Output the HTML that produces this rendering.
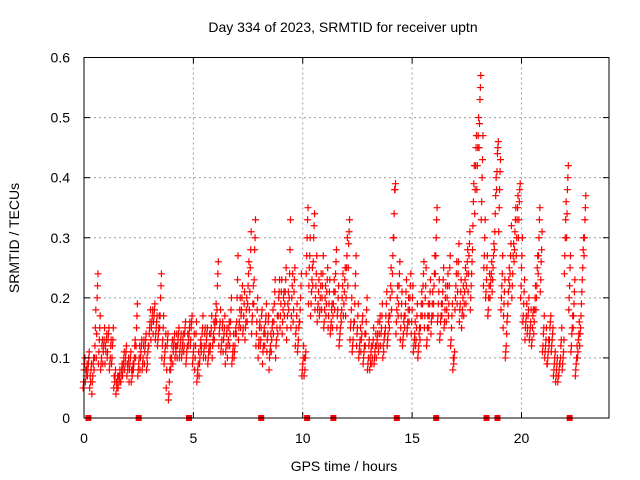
<!DOCTYPE html>
<html><head><meta charset="utf-8"><style>
body{margin:0;background:#fff;}
svg{display:block;font-family:"Liberation Sans",sans-serif;}
</style></head><body>
<svg id="chart" width="640" height="480">
<rect x="0" y="0" width="640" height="480" fill="#fff"/>
<text x="343" y="32" font-size="14" text-anchor="middle">Day 334 of 2023, SRMTID for receiver uptn</text>
<text x="344" y="471" font-size="14" text-anchor="middle">GPS time / hours</text>
<text transform="translate(19,238) rotate(-90)" font-size="14" text-anchor="middle">SRMTID / TECUs</text>
<g id="grid"></g><g id="marks"></g><g id="axes"></g>
</svg>
<script>
const xTicks=[0,5,10,15,20];
const yTicks=[0,0.1,0.2,0.3,0.4,0.5,0.6];
const yTickLabels=["0","0.1","0.2","0.3","0.4","0.5","0.6"];
const startHour=0, stepHour=0.1;
const srmtidMid=[.08,.07,.09,.06,.07,.12,.20,.13,.10,.12,.11,.13,.10,.12,.06,.05,.06,.07,.09,.10,.08,.09,.07,.10,.15,.09,.11,.10,.12,.09,.15,.16,.17,.15,.14,.20,.13,.11,.12,.06,.10,.12,.11,.13,.12,.12,.14,.11,.14,.15,.11,.12,.08,.10,.14,.12,.13,.11,.14,.13,.16,.22,.15,.13,.14,.12,.13,.16,.11,.12,.20,.16,.18,.17,.16,.22,.25,.17,.28,.16,.13,.15,.12,.16,.14,.11,.15,.19,.13,.20,.19,.18,.21,.17,.24,.20,.21,.15,.13,.20,.09,.08,.30,.25,.21,.30,.22,.19,.20,.22,.18,.21,.19,.16,.19,.24,.18,.14,.20,.21,.25,.29,.16,.13,.22,.15,.12,.14,.11,.16,.10,.09,.12,.11,.13,.14,.15,.11,.17,.14,.20,.24,.38,.18,.22,.17,.14,.19,.16,.20,.18,.13,.15,.12,.17,.22,.20,.15,.19,.17,.22,.30,.19,.16,.21,.18,.20,.22,.15,.09,.22,.24,.19,.18,.21,.24,.27,.22,.36,.42,.45,.53,.40,.27,.23,.20,.23,.25,.34,.44,.38,.22,.19,.12,.21,.27,.24,.31,.33,.36,.25,.19,.16,.17,.15,.15,.18,.22,.30,.26,.14,.12,.10,.15,.13,.09,.08,.07,.12,.10,.30,.38,.22,.14,.19,.09,.13,.15,.25,.33];
const srmtidLow=[.05,.06,.07,.05,.04,.08,.10,.09,.08,.09,.09,.10,.08,.09,.05,.04,.05,.06,.07,.08,.07,.06,.06,.08,.10,.07,.08,.08,.09,.08,.12,.13,.14,.13,.12,.15,.10,.09,.05,.03,.08,.09,.10,.10,.10,.10,.11,.09,.12,.12,.09,.08,.06,.07,.11,.10,.10,.09,.11,.10,.13,.16,.12,.11,.11,.09,.10,.12,.09,.10,.14,.13,.15,.14,.13,.16,.18,.14,.19,.12,.10,.12,.09,.12,.11,.08,.11,.14,.10,.14,.15,.14,.17,.13,.18,.15,.16,.12,.11,.16,.07,.07,.24,.19,.17,.22,.18,.16,.17,.18,.15,.17,.15,.14,.15,.18,.15,.12,.16,.17,.17,.22,.13,.11,.16,.12,.10,.11,.09,.12,.08,.08,.09,.09,.10,.11,.12,.10,.14,.12,.15,.18,.30,.14,.17,.13,.12,.15,.14,.16,.14,.11,.12,.10,.13,.17,.15,.12,.15,.14,.17,.24,.16,.13,.17,.15,.16,.17,.12,.08,.18,.19,.16,.15,.17,.19,.21,.18,.28,.34,.38,.45,.33,.22,.20,.17,.20,.21,.28,.38,.31,.18,.15,.10,.17,.22,.20,.26,.27,.30,.20,.16,.13,.14,.13,.12,.14,.18,.24,.21,.11,.10,.09,.12,.11,.07,.06,.06,.09,.08,.24,.30,.18,.11,.15,.07,.10,.12,.21,.27];
const srmtidHigh=[.10,.09,.11,.09,.10,.18,.24,.17,.13,.15,.14,.15,.13,.15,.08,.07,.08,.09,.11,.12,.10,.11,.09,.13,.19,.12,.13,.13,.14,.12,.18,.18,.19,.17,.17,.24,.17,.14,.14,.10,.13,.14,.14,.15,.14,.14,.16,.14,.16,.17,.14,.16,.11,.13,.17,.15,.15,.14,.17,.16,.19,.26,.18,.16,.17,.15,.16,.20,.14,.15,.27,.20,.22,.21,.20,.26,.31,.22,.33,.20,.16,.18,.15,.19,.17,.14,.18,.23,.17,.23,.23,.21,.25,.21,.33,.24,.25,.19,.16,.24,.12,.11,.35,.30,.25,.34,.27,.23,.24,.27,.22,.25,.23,.19,.23,.28,.22,.17,.24,.25,.30,.33,.20,.16,.27,.19,.15,.17,.14,.20,.13,.12,.15,.14,.16,.17,.19,.14,.21,.17,.25,.30,.39,.22,.26,.21,.17,.23,.20,.24,.22,.16,.19,.15,.21,.26,.25,.19,.23,.21,.27,.35,.23,.19,.25,.22,.24,.27,.19,.11,.26,.29,.23,.22,.25,.28,.31,.26,.42,.47,.50,.57,.47,.33,.27,.24,.26,.29,.40,.46,.43,.27,.23,.16,.25,.32,.29,.35,.37,.39,.30,.23,.19,.20,.18,.18,.22,.27,.35,.31,.17,.15,.13,.17,.15,.11,.10,.09,.15,.13,.36,.42,.27,.17,.23,.12,.16,.19,.30,.37];
const srmtidQ1=[.06,.08,.08,.07,.06,.10,.14,.11,.09,.11,.12,.11,.09,.10,.07,.06,.07,.06,.08,.09,.09,.08,.08,.09,.12,.08,.10,.09,.11,.10,.14,.15,.16,.14,.13,.17,.12,.10,.08,.04,.09,.11,.12,.12,.11,.11,.12,.10,.13,.13,.10,.10,.07,.09,.12,.11,.12,.10,.12,.12,.15,.18,.14,.12,.13,.11,.12,.14,.10,.11,.16,.15,.17,.15,.15,.19,.21,.16,.23,.14,.12,.13,.11,.14,.13,.10,.13,.16,.12,.17,.17,.16,.19,.15,.20,.17,.18,.14,.12,.18,.08,.10,.27,.22,.19,.26,.20,.18,.18,.20,.16,.19,.17,.15,.17,.21,.17,.13,.18,.19,.20,.25,.15,.12,.19,.14,.11,.13,.10,.14,.09,.10,.10,.10,.12,.12,.14,.12,.15,.13,.17,.21,.34,.16,.19,.15,.13,.17,.15,.18,.16,.12,.13,.11,.15,.19,.17,.13,.17,.16,.19,.27,.17,.14,.19,.16,.18,.19,.13,.10,.20,.21,.18,.17,.19,.22,.24,.20,.32,.38,.42,.49,.36,.25,.21,.18,.22,.23,.31,.41,.35,.20,.17,.11,.19,.24,.22,.28,.30,.33,.22,.17,.15,.15,.14,.13,.16,.20,.27,.23,.12,.11,.09,.13,.12,.08,.07,.07,.10,.09,.27,.34,.20,.12,.17,.08,.11,.14,.23,.30];
const srmtidQ3=[.09,.08,.10,.08,.09,.15,.22,.15,.12,.13,.13,.14,.12,.13,.07,.06,.07,.08,.10,.11,.09,.10,.08,.12,.17,.10,.12,.12,.13,.11,.16,.17,.18,.16,.15,.22,.15,.12,.13,.08,.12,.13,.12,.14,.13,.13,.15,.12,.15,.16,.12,.14,.09,.12,.15,.14,.14,.12,.15,.14,.17,.24,.16,.15,.15,.14,.15,.18,.12,.14,.23,.18,.20,.19,.18,.24,.28,.19,.30,.18,.15,.17,.14,.17,.16,.12,.16,.21,.15,.21,.21,.20,.23,.19,.28,.22,.23,.17,.15,.22,.10,.10,.33,.27,.23,.32,.24,.21,.22,.24,.20,.23,.21,.18,.21,.26,.20,.15,.22,.23,.27,.31,.18,.15,.24,.17,.13,.16,.12,.18,.12,.11,.13,.12,.14,.16,.17,.13,.19,.16,.22,.27,.38,.20,.24,.19,.16,.21,.18,.22,.20,.14,.17,.14,.19,.24,.22,.17,.21,.19,.24,.33,.21,.17,.23,.20,.22,.25,.17,.10,.24,.26,.21,.20,.23,.26,.29,.24,.39,.45,.47,.55,.43,.30,.25,.22,.24,.27,.37,.45,.41,.24,.21,.14,.23,.29,.27,.33,.35,.38,.27,.21,.17,.18,.16,.17,.20,.25,.33,.28,.15,.13,.11,.16,.14,.10,.09,.08,.13,.11,.33,.40,.25,.15,.21,.10,.14,.17,.28,.35];
const gapHours=[0.2,2.5,4.8,8.1,10.2,11.4,14.3,16.1,18.4,18.9,22.2];

const L=84,R=609,T=57.5,B=418,XMAX=24,YMAX=0.6;
function xs(h){return L+(h/XMAX)*(R-L);}
function ys(v){return B-(v/YMAX)*(B-T);}
const NS="http://www.w3.org/2000/svg";
function mk(tag,attrs,parent){const e=document.createElementNS(NS,tag);for(const k in attrs)e.setAttribute(k,attrs[k]);parent.appendChild(e);return e;}
const grid=document.getElementById('grid'),marks=document.getElementById('marks'),axes=document.getElementById('axes');

xTicks.forEach((t,i)=>{
  const x=xs(t);
  if(t>0){const g=mk('line',{x1:x,y1:T,x2:x,y2:B,stroke:'#a0a0a0','stroke-dasharray':'2,3'},grid);
  
  }
  mk('line',{x1:x,y1:B,x2:x,y2:B-6,stroke:'#000'},axes);
  mk('line',{x1:x,y1:T,x2:x,y2:T+6,stroke:'#000'},axes);
  const tx=mk('text',{x:x,y:443,'font-size':14,'text-anchor':'middle'},axes);
  tx.textContent=String(t);
  
  
});
yTicks.forEach((t,i)=>{
  const y=ys(t);
  if(t>0&&t<YMAX){const g=mk('line',{x1:L,y1:y,x2:R,y2:y,stroke:'#a0a0a0','stroke-dasharray':'2,3'},grid);
  
  }
  mk('line',{x1:L,y1:y,x2:L+6,y2:y,stroke:'#000'},axes);
  mk('line',{x1:R,y1:y,x2:R-6,y2:y,stroke:'#000'},axes);
  const tx=mk('text',{x:70,y:y+5,'font-size':14,'text-anchor':'end'},axes);
  tx.textContent=yTickLabels[i];
  
  
});
const frame=mk('rect',{x:L,y:T,width:R-L,height:B-T,fill:'none',stroke:'#000'},axes);



function plus(h,v,color,name){
  const x=xs(h),y=ys(v);
  const p=mk('path',{d:`M${x-3.5},${y}h7M${x},${y-3.5}v7`,stroke:color,'stroke-width':1.2,fill:'none'},marks);
  
  
}
[[srmtidLow,-0.04,'low'],[srmtidQ1,-0.02,'q1'],[srmtidHigh,0.04,'high'],[srmtidQ3,0.02,'q3'],[srmtidMid,0,'mid']].forEach(([arr,off,nm])=>{
  arr.forEach((v,i)=>{
    const h=startHour+i*stepHour+off;
    plus(h,v,'#ff0000','srmtid-point-'+nm);
  });
});
gapHours.forEach(h=>{
  const r=mk('rect',{x:xs(h)-3,y:B-3,width:6,height:6,fill:'#ff0000'},marks);
  
  
});
</script>
</body></html>
